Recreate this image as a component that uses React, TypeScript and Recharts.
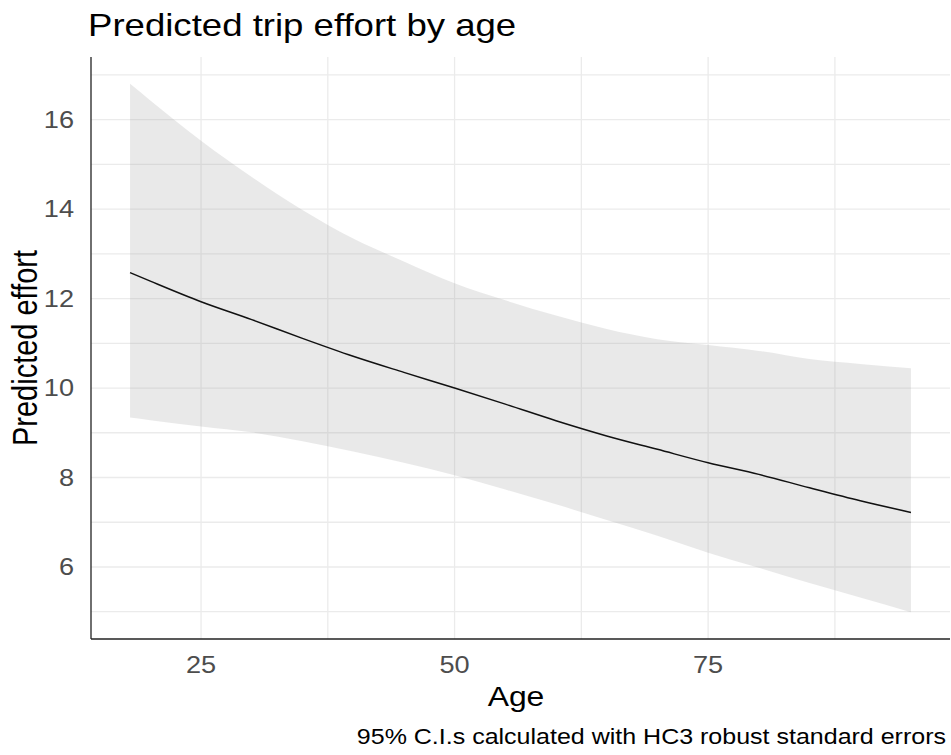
import React from "react";
import {
  ComposedChart,
  Area,
  Line,
  XAxis,
  YAxis,
  CartesianGrid,
} from "recharts";

// model predictions by age, with 95% interval bounds
const ages = [18, 20, 25, 30, 35, 40, 45, 50, 55, 60, 65, 70, 75, 80, 85, 90, 95];
const fit = [12.58, 12.39, 11.93, 11.53, 11.11, 10.71, 10.35, 10.0, 9.64, 9.27, 8.93, 8.63, 8.33, 8.07, 7.77, 7.48, 7.22];
const upper = [16.8, 16.43, 15.53, 14.72, 13.98, 13.34, 12.83, 12.34, 11.96, 11.62, 11.32, 11.09, 10.96, 10.83, 10.65, 10.54, 10.44];
const lower = [9.34, 9.28, 9.14, 9.01, 8.81, 8.58, 8.33, 8.05, 7.73, 7.4, 7.05, 6.7, 6.32, 5.98, 5.64, 5.32, 4.99];

const xTicks = [25, 50, 75];
const yTicks = [6, 8, 10, 12, 14, 16];
const xGrid = [25, 37.5, 50, 62.5, 75, 87.5];
const yGrid = [5, 6, 7, 8, 9, 10, 11, 12, 13, 14, 15, 16, 17];

const rows = ages.map((age, i) => ({
  age,
  fit: fit[i],
  band: [lower[i], upper[i]],
}));

const FONT = "'Liberation Sans', Arial, sans-serif";
const SX = 1.18; // text is drawn a bit wide

const XTick = (props: any) => {
  const { x, y, payload } = props;
  return (
    <text
      transform={`translate(${x} ${y}) scale(${SX} 1)`}
      dy="0.71em"
      textAnchor="middle"
      fill="#4d4d4d"
      fontSize={23}
      fontFamily={FONT}
    >
      {payload.value}
    </text>
  );
};

const YTick = (props: any) => {
  const { x, y, payload } = props;
  return (
    <text
      transform={`translate(${x} ${y}) scale(${SX} 1)`}
      dy="0.36em"
      textAnchor="end"
      fill="#4d4d4d"
      fontSize={23}
      fontFamily={FONT}
    >
      {payload.value}
    </text>
  );
};

export default function App() {
  return (
    <div
      style={{
        position: "absolute",
        left: 0,
        top: 0,
        width: 951,
        height: 755,
        background: "#fff",
      }}
    >
      <ComposedChart
        width={951}
        height={755}
        data={rows}
        margin={{ top: 57, right: 1, left: 0, bottom: 0 }}
      >
        <CartesianGrid
          horizontalValues={yGrid}
          verticalValues={xGrid}
          stroke="#ebebeb"
          strokeWidth={1.3}
        />
        <XAxis
          type="number"
          dataKey="age"
          domain={[14.15, 98.85]}
          ticks={xTicks}
          height={116}
          tickLine={false}
          tickSize={0}
          tickMargin={18}
          tick={<XTick />}
          axisLine={{ stroke: "#222", strokeWidth: 1.3 }}
          allowDataOverflow
        />
        <YAxis
          type="number"
          domain={[4.39, 17.4]}
          ticks={yTicks}
          width={91}
          tickLine={false}
          tickSize={0}
          tickMargin={17}
          tick={<YTick />}
          axisLine={{ stroke: "#222", strokeWidth: 1.3 }}
          allowDataOverflow
        />
        <Area
          type="monotone"
          dataKey="band"
          stroke="none"
          fill="#999999"
          fillOpacity={0.22}
          isAnimationActive={false}
        />
        <Line
          type="monotone"
          dataKey="fit"
          stroke="#111"
          strokeWidth={1.5}
          dot={false}
          isAnimationActive={false}
        />
      </ComposedChart>
      <svg
        width={951}
        height={755}
        style={{ position: "absolute", left: 0, top: 0, pointerEvents: "none" }}
        fontFamily={FONT}
      >
        <text transform={`translate(88 36) scale(${SX} 1)`} fontSize={31} fill="#000">
          Predicted trip effort by age
        </text>
        <text
          transform={`translate(37 348) scale(${SX} 1) rotate(-90)`}
          textAnchor="middle"
          fontSize={29}
          fill="#000"
        >
          Predicted effort
        </text>
        <text
          transform={`translate(516 706) scale(${SX} 1)`}
          textAnchor="middle"
          fontSize={27}
          fill="#000"
        >
          Age
        </text>
        <text
          transform={`translate(946 744) scale(${SX} 1)`}
          textAnchor="end"
          fontSize={21.2}
          fill="#000"
        >
          95% C.I.s calculated with HC3 robust standard errors
        </text>
      </svg>
    </div>
  );
}
